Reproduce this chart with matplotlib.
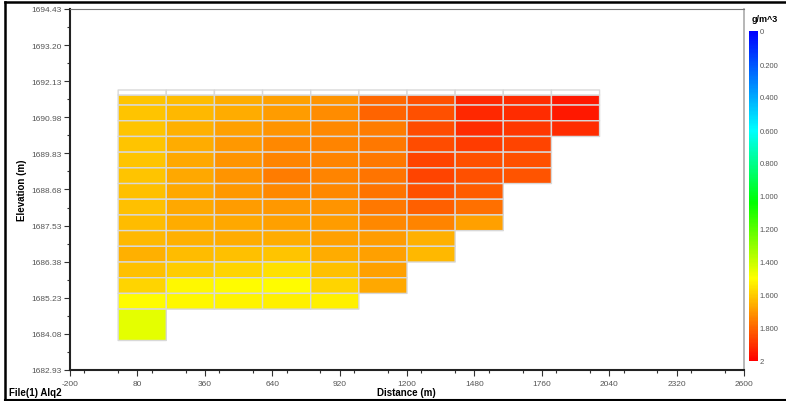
import numpy as np
import matplotlib.pyplot as plt
from matplotlib.colors import LinearSegmentedColormap, ListedColormap
from matplotlib.lines import Line2D
from matplotlib.ticker import MultipleLocator, FixedLocator

plt.rcParams['font.family'] = ['Liberation Sans', 'DejaVu Sans']

# Zellraster: x-Kanten (m) und y-Kanten (m, von oben nach unten)
x_edges = [0, 200, 400, 600, 800, 1000, 1200, 1400, 1600, 1800, 2000]
y_leer = [1691.85, 1691.69]   # weisse Kopfzeile ohne Werte
y_edges = [1691.69, 1691.37, 1690.87, 1690.37, 1689.87, 1689.37, 1688.87,
           1688.37, 1687.87, 1687.37, 1686.87, 1686.37, 1685.87, 1685.37,
           1684.87, 1683.87]

# Dichte je Spalte, von oben nach unten (g/m^3)
spalte_1 = [1.61, 1.61, 1.61, 1.61, 1.61, 1.61, 1.62, 1.62, 1.63, 1.64, 1.65, 1.62, 1.58, 1.50, 1.45]
spalte_2 = [1.63, 1.64, 1.65, 1.66, 1.67, 1.67, 1.67, 1.67, 1.66, 1.65, 1.63, 1.60, 1.51, 1.51]
spalte_3 = [1.66, 1.66, 1.68, 1.70, 1.71, 1.71, 1.70, 1.69, 1.67, 1.66, 1.62, 1.58, 1.50, 1.52]
spalte_4 = [1.68, 1.69, 1.71, 1.73, 1.74, 1.75, 1.73, 1.70, 1.68, 1.66, 1.61, 1.56, 1.50, 1.53]
spalte_5 = [1.71, 1.72, 1.73, 1.74, 1.74, 1.74, 1.73, 1.71, 1.69, 1.68, 1.66, 1.62, 1.58, 1.53]
spalte_6 = [1.79, 1.80, 1.75, 1.76, 1.76, 1.77, 1.77, 1.76, 1.73, 1.69, 1.68, 1.68, 1.67]
spalte_7 = [1.84, 1.84, 1.85, 1.85, 1.86, 1.86, 1.84, 1.81, 1.74, 1.65, 1.64]
spalte_8 = [1.92, 1.92, 1.91, 1.88, 1.84, 1.84, 1.82, 1.78, 1.68]
spalte_9 = [1.91, 1.91, 1.89, 1.86, 1.84, 1.83]
spalte_10 = [1.95, 1.95, 1.91]

x_ticks = [-200, 80, 360, 640, 920, 1200, 1480, 1760, 2040, 2320, 2600]
y_ticklabels = ["1682.93", "1684.08", "1685.23", "1686.38", "1687.53", "1688.68",
                "1689.83", "1690.98", "1692.13", "1693.20", "1694.43"]
cb_ticks = [0, 0.2, 0.4, 0.6, 0.8, 1.0, 1.2, 1.4, 1.6, 1.8, 2.0]
cb_labels = ["0", "0.200", "0.400", "0.600", "0.800", "1.000", "1.200",
             "1.400", "1.600", "1.800", "2"]

spalten = [spalte_1, spalte_2, spalte_3, spalte_4, spalte_5,
           spalte_6, spalte_7, spalte_8, spalte_9, spalte_10]
n_rows = len(y_edges) - 1
werte = np.full((n_rows, len(spalten)), np.nan)
for j, s in enumerate(spalten):
    werte[:len(s), j] = s
werte = np.ma.masked_invalid(werte)

cmap = LinearSegmentedColormap.from_list(
    "dichte", [(0.0, "#0000ff"), (0.3, "#00ffff"), (0.52, "#00ff00"),
               (0.75, "#ffff00"), (1.0, "#ff0000")])

fig = plt.figure(figsize=(7.86, 4.02), dpi=100)
W, H = 786, 402
ax = fig.add_axes([70 / W, 1 - 371 / H, 674 / W, 361 / H])

mesh = ax.pcolor(x_edges, y_edges, werte, cmap=cmap, vmin=0, vmax=2,
                 edgecolors='#d8d8d8', linewidth=1.0)
ax.pcolor(x_edges, y_leer, np.zeros((1, len(spalten))),
          cmap=ListedColormap(['white']), edgecolors='#d8d8d8', linewidth=1.0)

ax.set_xlim(-200, 2600)
ax.set_ylim(1682.93, 1694.43)
ax.set_xticks(x_ticks)
ax.set_xticklabels([str(t) for t in x_ticks])
ax.xaxis.set_minor_locator(MultipleLocator(140))
y_pos = np.linspace(1682.93, 1694.43, 11)
ax.set_yticks(y_pos)
ax.set_yticklabels(y_ticklabels)
ax.yaxis.set_minor_locator(FixedLocator((y_pos[:-1] + y_pos[1:]) / 2))

ax.tick_params(which='both', direction='out', labelsize=6, labelcolor='#555555',
               color='#333333', width=0.8)
ax.tick_params(which='major', length=4)
ax.tick_params(which='minor', length=2.5)
ax.tick_params(axis='y', pad=2)
ax.tick_params(axis='x', pad=3)

for side in ['left', 'bottom']:
    ax.spines[side].set_linewidth(1.5)
    ax.spines[side].set_color('#222222')
ax.spines['top'].set_color('#777777')
ax.spines['top'].set_linewidth(0.8)
ax.spines['right'].set_color('#aaaaaa')
ax.spines['right'].set_linewidth(1.2)

fig.text(22 / W, 1 - 190 / H, "Elevation (m)", rotation=90, ha='center', va='center',
         fontsize=7, fontweight='bold')
fig.text(406 / W, 1 - 393 / H, "Distance (m)", ha='center', va='center',
         fontsize=7, fontweight='bold')
fig.text(9 / W, 1 - 393 / H, "File(1) Alq2", ha='left', va='center',
         fontsize=7, fontweight='bold')

# Farbskala
cax = fig.add_axes([749 / W, 1 - 362 / H, 9 / W, 330 / H])
cb = fig.colorbar(mesh, cax=cax)
cb.outline.set_visible(False)
cax.invert_yaxis()
cb.set_ticks(cb_ticks)
cb.set_ticklabels(cb_labels)
cax.tick_params(length=0, labelsize=5.5, labelcolor='#555555', pad=1)
fig.text(765 / W, 1 - 19 / H, "g/m^3", ha='center', va='center',
         fontsize=6.5, fontweight='bold')

# Rahmen
fig.add_artist(Line2D([5 / W, 5 / W], [1 - 400.5 / H, 1 - 3 / H], color='black', lw=1.8))
fig.add_artist(Line2D([5 / W, 1], [1 - 3 / H, 1 - 3 / H], color='black', lw=1.8))
fig.add_artist(Line2D([5 / W, 1], [1 - 400.5 / H, 1 - 400.5 / H], color='black', lw=1.5))

fig.savefig("out.png", dpi=100)
